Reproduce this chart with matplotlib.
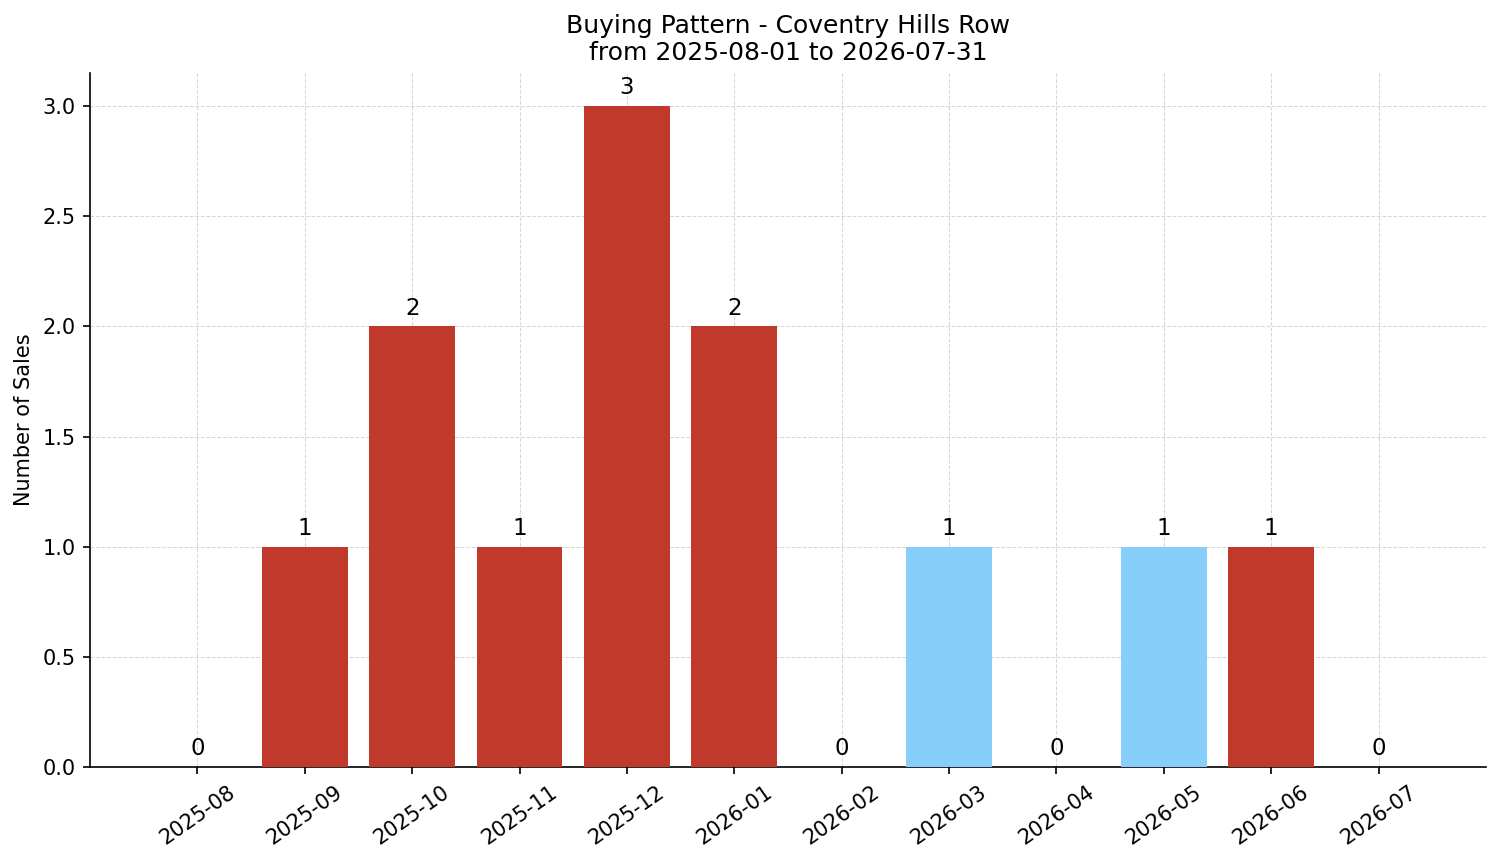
import matplotlib
matplotlib.use("Agg")
import matplotlib.pyplot as plt

months = ["2025-08", "2025-09", "2025-10", "2025-11", "2025-12", "2026-01",
          "2026-02", "2026-03", "2026-04", "2026-05", "2026-06", "2026-07"]
sales = [0, 1, 2, 1, 3, 2, 0, 1, 0, 1, 1, 0]
highlight = [False, False, False, False, False, False,
             False, True, False, True, False, False]

red = "#c0392b"
blue = "#87cefa"
colors = [blue if h else red for h in highlight]

fig = plt.figure(figsize=(1501 / 150, 863 / 150), dpi=150)
ax = fig.add_axes([90 / 1501, 1 - 767 / 863, (1486 - 90) / 1501, (767 - 73) / 863])

x = list(range(len(months)))
bars = ax.bar(x, sales, color=colors, width=0.8, zorder=3)
for xi, v in zip(x, sales):
    ax.text(xi, v + 0.03, str(v), ha="center", va="bottom", fontsize=11, zorder=4)

ax.set_xticks(x)
ax.set_xticklabels(months, rotation=35)
ax.set_xlim(-1.0, 12.0)
ax.set_ylim(0, 3.15)
ax.set_ylabel("Number of Sales")
ax.set_title("Buying Pattern - Coventry Hills Row\nfrom 2025-08-01 to 2026-07-31", fontsize=12)
ax.grid(True, linestyle="--", color="#d3d3d3", linewidth=0.5, alpha=0.9, zorder=0)
ax.spines["top"].set_visible(False)
ax.spines["right"].set_visible(False)

fig.savefig("out.png", dpi=150)
